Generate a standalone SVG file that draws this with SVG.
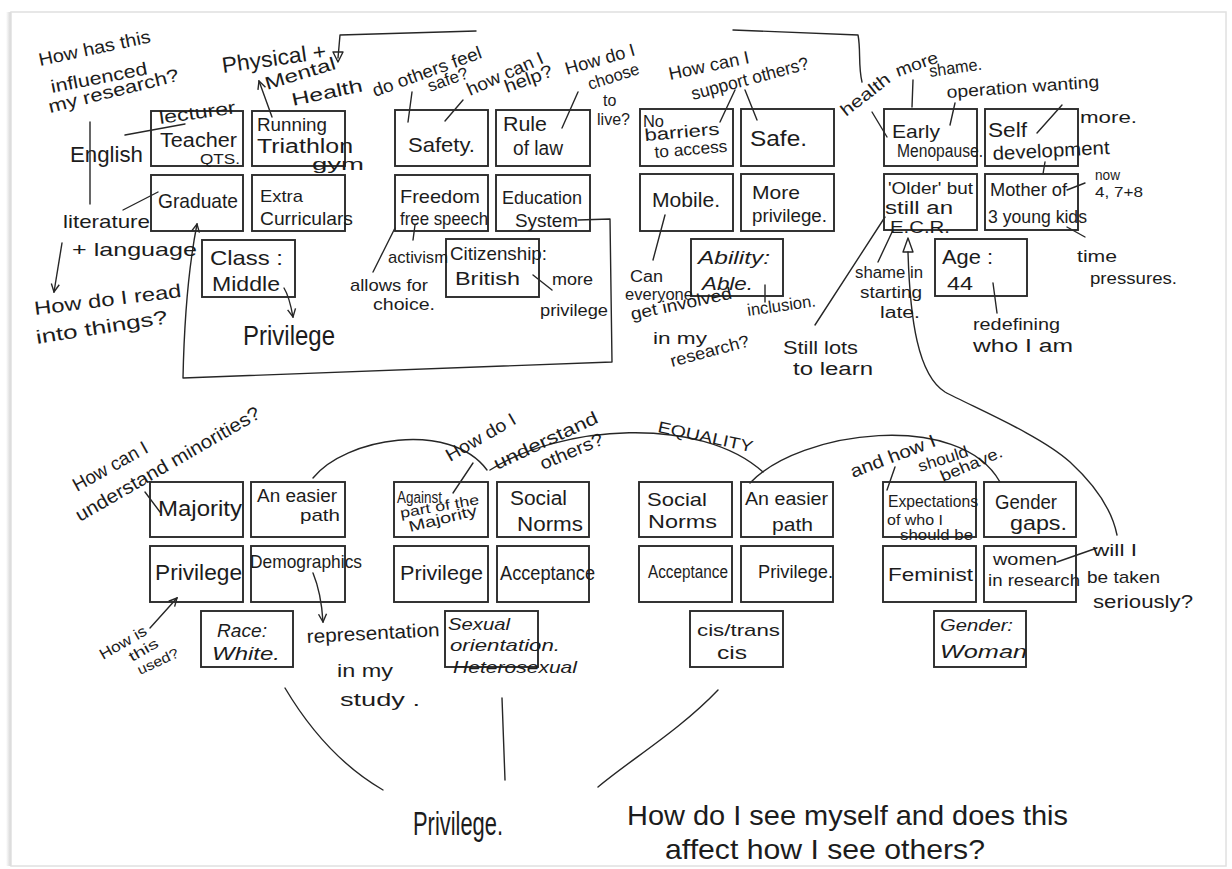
<svg xmlns="http://www.w3.org/2000/svg" width="1232" height="869" viewBox="0 0 1232 869">
<defs>
<style>
.bx{fill:none;stroke:#2b2b2b;stroke-width:1.9}
.t{font-family:"Liberation Sans",Arial,sans-serif;fill:#1c1c1c}
.i{font-style:italic}
.ln{fill:none;stroke:#262626;stroke-width:1.4;stroke-linecap:round;stroke-linejoin:round}
.ar{marker-end:url(#ah)}
</style>
<marker id="ah" viewBox="0 0 10 10" refX="9" refY="5" markerWidth="10" markerHeight="10" markerUnits="userSpaceOnUse" orient="auto"><path d="M1,1 L9,5 L1,9" fill="none" stroke="#262626" stroke-width="1.4"/></marker>
<linearGradient id="edge" x1="0" y1="0" x2="1" y2="0"><stop offset="0" stop-color="#ffffff"/><stop offset="1" stop-color="#c9c9c9"/></linearGradient>
</defs>

<!-- sheet of paper -->
<rect width="1232" height="869" fill="#ffffff"/>
<rect x="6" y="12" width="6" height="854" fill="url(#edge)"/>
<rect x="11" y="12" width="1215" height="854" fill="#ffffff" stroke="#e0e0e0" stroke-width="1.5"/>

<!-- connectors -->
<g id="connectors">
  <path class="ln ar" d="M272,117 L259,81"/>
  <path class="ln" d="M476,31 L340,35 L338,58"/>
  <path class="ln" d="M333,52 L343,52 L338,62 Z"/>
  <path class="ln" d="M733,30 L858,35 C861,50 858,66 862,82"/>
  <path class="ln" d="M872,112 L887,137"/>
  <path class="ln" d="M90,122 L90,204"/>
  <path class="ln" d="M125,135 L185,124"/>
  <path class="ln" d="M123,210 L158,192"/>
  <path class="ln ar" d="M62,243 L54,292"/>
  <path class="ln ar" d="M284,288 C289,296 291,306 293,317"/>
  <path class="ln ar" d="M578,220 L610,219 L612,362 L183,378 C184,330 188,270 197,224"/>
  <path class="ln" d="M412,92 L408,122"/>
  <path class="ln" d="M463,100 L445,121"/>
  <path class="ln" d="M578,92 L562,128"/>
  <path class="ln" d="M373,272 L395,228"/>
  <path class="ln" d="M415,225 L413,240"/>
  <path class="ln" d="M533,275 L552,290"/>
  <path class="ln" d="M735,90 L720,122"/>
  <path class="ln" d="M745,90 L757,120"/>
  <path class="ln" d="M665,215 L653,260"/>
  <path class="ln" d="M765,285 L765,302"/>
  <path class="ln" d="M815,325 L885,217"/>
  <path class="ln" d="M913,80 L912,107"/>
  <path class="ln" d="M955,103 L950,125"/>
  <path class="ln" d="M1062,105 L1037,133"/>
  <path class="ln" d="M1045,162 L1043,174"/>
  <path class="ln" d="M1067,190 L1085,183"/>
  <path class="ln" d="M1067,227 L1085,237"/>
  <path class="ln" d="M993,283 L997,313"/>
  <path class="ln" d="M893,230 L878,262"/>
  <path class="ln" d="M908,238 L903,252 L913,252 Z"/>
  <path class="ln" d="M908,252 C910,320 918,375 945,392 C975,408 1040,435 1070,462 C1095,485 1112,510 1117,535"/>
  <path class="ln" d="M145,492 L160,512"/>
  <path class="ln ar" d="M150,628 L177,598"/>
  <path class="ln ar" d="M313,573 C320,590 322,605 323,622"/>
  <path class="ln" d="M313,478 C345,438 450,420 487,470"/>
  <path class="ln" d="M490,470 C560,425 700,415 763,472"/>
  <path class="ln" d="M750,483 C800,430 960,410 1000,482"/>
  <path class="ln" d="M473,463 L453,493"/>
  <path class="ln" d="M895,467 L887,490"/>
  <path class="ln" d="M1057,562 L1097,548"/>
  <path class="ln" d="M285,688 C310,730 340,765 383,790"/>
  <path class="ln" d="M502,698 L505,780"/>
  <path class="ln" d="M718,690 C680,730 630,760 598,787"/>
</g>

<!-- identity: teaching -->
<g id="n-teacher"><rect class="bx" x="151" y="111" width="92" height="55"/>
  <text class="t" x="160" y="147" font-size="20" textLength="77" lengthAdjust="spacingAndGlyphs">Teacher</text>
  <text class="t" x="200" y="164" font-size="14" textLength="40" lengthAdjust="spacingAndGlyphs">QTS.</text></g>
<g id="n-running"><rect class="bx" x="252" y="111" width="93" height="55"/>
  <text class="t" x="257" y="131" font-size="18" textLength="70" lengthAdjust="spacingAndGlyphs">Running</text>
  <text class="t" x="257" y="153" font-size="20" textLength="96" lengthAdjust="spacingAndGlyphs">Triathlon</text>
  <text class="t" x="312" y="170" font-size="17" textLength="52" lengthAdjust="spacingAndGlyphs">gym</text></g>
<g id="n-graduate"><rect class="bx" x="151" y="175" width="92" height="56"/>
  <text class="t" x="158" y="208" font-size="21" textLength="80" lengthAdjust="spacingAndGlyphs">Graduate</text></g>
<g id="n-extra"><rect class="bx" x="252" y="175" width="93" height="56"/>
  <text class="t" x="260" y="202" font-size="17" textLength="43" lengthAdjust="spacingAndGlyphs">Extra</text>
  <text class="t" x="260" y="225" font-size="19" textLength="93" lengthAdjust="spacingAndGlyphs">Curriculars</text></g>
<g id="n-class"><rect class="bx" x="202" y="240" width="93" height="57"/>
  <text class="t" x="210" y="265" font-size="21" textLength="73" lengthAdjust="spacingAndGlyphs">Class :</text>
  <text class="t" x="212" y="291" font-size="20" textLength="68" lengthAdjust="spacingAndGlyphs">Middle</text></g>

<!-- identity: citizenship -->
<g id="n-safety"><rect class="bx" x="395" y="110" width="93" height="56"/>
  <text class="t" x="408" y="152" font-size="21" textLength="67" lengthAdjust="spacingAndGlyphs">Safety.</text></g>
<g id="n-rule"><rect class="bx" x="496" y="110" width="94" height="56"/>
  <text class="t" x="503" y="131" font-size="20" textLength="44" lengthAdjust="spacingAndGlyphs">Rule</text>
  <text class="t" x="513" y="155" font-size="20" textLength="50" lengthAdjust="spacingAndGlyphs">of law</text></g>
<g id="n-freedom"><rect class="bx" x="395" y="175" width="93" height="56"/>
  <text class="t" x="400" y="203" font-size="19" textLength="80" lengthAdjust="spacingAndGlyphs">Freedom</text>
  <text class="t" x="400" y="225" font-size="19" textLength="88" lengthAdjust="spacingAndGlyphs">free speech</text></g>
<g id="n-education"><rect class="bx" x="496" y="175" width="94" height="56"/>
  <text class="t" x="502" y="204" font-size="18" textLength="80" lengthAdjust="spacingAndGlyphs">Education</text>
  <text class="t" x="515" y="227" font-size="19" textLength="63" lengthAdjust="spacingAndGlyphs">System</text></g>
<g id="n-citizenship"><rect class="bx" x="446" y="239" width="93" height="58"/>
  <text class="t" x="450" y="260" font-size="19" textLength="97" lengthAdjust="spacingAndGlyphs">Citizenship:</text>
  <text class="t" x="455" y="285" font-size="19" textLength="65" lengthAdjust="spacingAndGlyphs">British</text></g>

<!-- identity: ability -->
<g id="n-barriers"><rect class="bx" x="640" y="109" width="93" height="57"/>
  <text class="t" x="643" y="127" font-size="16" textLength="21" lengthAdjust="spacingAndGlyphs">No</text>
  <text class="t" x="645" y="141" font-size="17" textLength="75" lengthAdjust="spacingAndGlyphs" transform="rotate(-5 645 141)">barriers</text>
  <text class="t" x="655" y="158" font-size="17" textLength="73" lengthAdjust="spacingAndGlyphs" transform="rotate(-5 655 158)">to access</text></g>
<g id="n-safe"><rect class="bx" x="741" y="109" width="93" height="57"/>
  <text class="t" x="750" y="146" font-size="22" textLength="57" lengthAdjust="spacingAndGlyphs">Safe.</text></g>
<g id="n-mobile"><rect class="bx" x="640" y="174" width="93" height="57"/>
  <text class="t" x="652" y="207" font-size="21" textLength="68" lengthAdjust="spacingAndGlyphs">Mobile.</text></g>
<g id="n-moreprivilege"><rect class="bx" x="741" y="174" width="93" height="57"/>
  <text class="t" x="752" y="199" font-size="19" textLength="48" lengthAdjust="spacingAndGlyphs">More</text>
  <text class="t" x="752" y="222" font-size="18" textLength="75" lengthAdjust="spacingAndGlyphs">privilege.</text></g>
<g id="n-ability"><rect class="bx" x="691" y="239" width="92" height="57"/>
  <text class="t i" x="698" y="264" font-size="19" textLength="72" lengthAdjust="spacingAndGlyphs">Ability:</text>
  <text class="t i" x="702" y="290" font-size="19" textLength="51" lengthAdjust="spacingAndGlyphs">Able.</text></g>

<!-- identity: age -->
<g id="n-menopause"><rect class="bx" x="884" y="109" width="93" height="57"/>
  <text class="t" x="892" y="138" font-size="19" textLength="48" lengthAdjust="spacingAndGlyphs">Early</text>
  <text class="t" x="897" y="157" font-size="18" textLength="86" lengthAdjust="spacingAndGlyphs">Menopause.</text></g>
<g id="n-self"><rect class="bx" x="985" y="109" width="93" height="57"/>
  <text class="t" x="988" y="137" font-size="20" textLength="39" lengthAdjust="spacingAndGlyphs">Self</text>
  <text class="t" x="993" y="160" font-size="19" textLength="117" lengthAdjust="spacingAndGlyphs" transform="rotate(-3 993 160)">development</text></g>
<g id="n-ecr"><rect class="bx" x="884" y="174" width="93" height="56"/>
  <text class="t" x="888" y="194" font-size="17" textLength="85" lengthAdjust="spacingAndGlyphs">'Older' but</text>
  <text class="t" x="885" y="214" font-size="18" textLength="68" lengthAdjust="spacingAndGlyphs">still an</text>
  <text class="t" x="890" y="233" font-size="17" textLength="60" lengthAdjust="spacingAndGlyphs">E.C.R.</text></g>
<g id="n-mother"><rect class="bx" x="985" y="174" width="93" height="56"/>
  <text class="t" x="990" y="196" font-size="18" textLength="77" lengthAdjust="spacingAndGlyphs">Mother of</text>
  <text class="t" x="988" y="223" font-size="18" textLength="99" lengthAdjust="spacingAndGlyphs">3 young kids</text></g>
<g id="n-age"><rect class="bx" x="935" y="239" width="92" height="57"/>
  <text class="t" x="942" y="264" font-size="21" textLength="51" lengthAdjust="spacingAndGlyphs">Age :</text>
  <text class="t" x="947" y="290" font-size="18" textLength="26" lengthAdjust="spacingAndGlyphs">44</text></g>

<!-- identity: race -->
<g id="n-majority"><rect class="bx" x="150" y="482" width="93" height="55"/>
  <text class="t" x="158" y="516" font-size="22" textLength="84" lengthAdjust="spacingAndGlyphs">Majority</text></g>
<g id="n-path1"><rect class="bx" x="251" y="482" width="94" height="55"/>
  <text class="t" x="257" y="502" font-size="18" textLength="80" lengthAdjust="spacingAndGlyphs">An easier</text>
  <text class="t" x="300" y="521" font-size="17" textLength="40" lengthAdjust="spacingAndGlyphs">path</text></g>
<g id="n-privilege1"><rect class="bx" x="150" y="546" width="93" height="56"/>
  <text class="t" x="155" y="580" font-size="22" textLength="87" lengthAdjust="spacingAndGlyphs">Privilege</text></g>
<g id="n-demographics"><rect class="bx" x="251" y="546" width="94" height="56"/>
  <text class="t" x="250" y="568" font-size="19" textLength="112" lengthAdjust="spacingAndGlyphs">Demographics</text></g>
<g id="n-race"><rect class="bx" x="201" y="611" width="92" height="56"/>
  <text class="t i" x="217" y="637" font-size="19" textLength="50" lengthAdjust="spacingAndGlyphs">Race:</text>
  <text class="t i" x="212" y="660" font-size="19" textLength="68" lengthAdjust="spacingAndGlyphs">White.</text></g>

<!-- identity: sexual orientation -->
<g id="n-against"><rect class="bx" x="394" y="482" width="94" height="55"/>
  <text class="t" x="397" y="503" font-size="16" textLength="45" lengthAdjust="spacingAndGlyphs">Against</text>
  <text class="t" x="401" y="518" font-size="14" textLength="80" lengthAdjust="spacingAndGlyphs" transform="rotate(-10 401 518)">part of the</text>
  <text class="t" x="410" y="532" font-size="15" textLength="70" lengthAdjust="spacingAndGlyphs" transform="rotate(-14 410 532)">Majority</text></g>
<g id="n-norms1"><rect class="bx" x="497" y="482" width="92" height="55"/>
  <text class="t" x="510" y="505" font-size="20" textLength="57" lengthAdjust="spacingAndGlyphs">Social</text>
  <text class="t" x="517" y="531" font-size="20" textLength="66" lengthAdjust="spacingAndGlyphs">Norms</text></g>
<g id="n-privilege2"><rect class="bx" x="394" y="546" width="94" height="56"/>
  <text class="t" x="400" y="580" font-size="20" textLength="83" lengthAdjust="spacingAndGlyphs">Privilege</text></g>
<g id="n-acceptance1"><rect class="bx" x="497" y="546" width="92" height="56"/>
  <text class="t" x="500" y="580" font-size="20" textLength="95" lengthAdjust="spacingAndGlyphs">Acceptance</text></g>
<g id="n-orientation"><rect class="bx" x="445" y="611" width="93" height="56"/>
  <text class="t i" x="448" y="630" font-size="17" textLength="62" lengthAdjust="spacingAndGlyphs">Sexual</text>
  <text class="t i" x="450" y="651" font-size="17" textLength="110" lengthAdjust="spacingAndGlyphs">orientation.</text>
  <text class="t i" x="453" y="673" font-size="17" textLength="124" lengthAdjust="spacingAndGlyphs">Heterosexual</text></g>

<!-- identity: gender identity -->
<g id="n-norms2"><rect class="bx" x="639" y="482" width="93" height="55"/>
  <text class="t" x="647" y="506" font-size="19" textLength="60" lengthAdjust="spacingAndGlyphs">Social</text>
  <text class="t" x="648" y="528" font-size="19" textLength="69" lengthAdjust="spacingAndGlyphs">Norms</text></g>
<g id="n-path2"><rect class="bx" x="741" y="482" width="92" height="55"/>
  <text class="t" x="745" y="505" font-size="18" textLength="83" lengthAdjust="spacingAndGlyphs">An easier</text>
  <text class="t" x="772" y="531" font-size="18" textLength="41" lengthAdjust="spacingAndGlyphs">path</text></g>
<g id="n-acceptance2"><rect class="bx" x="639" y="546" width="93" height="56"/>
  <text class="t" x="648" y="578" font-size="18" textLength="80" lengthAdjust="spacingAndGlyphs">Acceptance</text></g>
<g id="n-privilege3"><rect class="bx" x="741" y="546" width="92" height="56"/>
  <text class="t" x="758" y="578" font-size="19" textLength="75" lengthAdjust="spacingAndGlyphs">Privilege.</text></g>
<g id="n-cis"><rect class="bx" x="690" y="611" width="93" height="56"/>
  <text class="t" x="697" y="636" font-size="17" textLength="83" lengthAdjust="spacingAndGlyphs">cis/trans</text>
  <text class="t" x="717" y="659" font-size="18" textLength="30" lengthAdjust="spacingAndGlyphs">cis</text></g>

<!-- identity: gender -->
<g id="n-expectations"><rect class="bx" x="883" y="482" width="93" height="55"/>
  <text class="t" x="888" y="507" font-size="17" textLength="90" lengthAdjust="spacingAndGlyphs">Expectations</text>
  <text class="t" x="887" y="525" font-size="15" textLength="56" lengthAdjust="spacingAndGlyphs">of who I</text>
  <text class="t" x="900" y="540" font-size="14" textLength="73" lengthAdjust="spacingAndGlyphs">should be</text></g>
<g id="n-gaps"><rect class="bx" x="984" y="482" width="92" height="55"/>
  <text class="t" x="995" y="509" font-size="20" textLength="62" lengthAdjust="spacingAndGlyphs">Gender</text>
  <text class="t" x="1010" y="530" font-size="20" textLength="57" lengthAdjust="spacingAndGlyphs">gaps.</text></g>
<g id="n-feminist"><rect class="bx" x="883" y="546" width="93" height="56"/>
  <text class="t" x="888" y="581" font-size="19" textLength="85" lengthAdjust="spacingAndGlyphs">Feminist</text></g>
<g id="n-women"><rect class="bx" x="984" y="546" width="92" height="56"/>
  <text class="t" x="993" y="565" font-size="16" textLength="64" lengthAdjust="spacingAndGlyphs">women</text>
  <text class="t" x="988" y="586" font-size="16" textLength="92" lengthAdjust="spacingAndGlyphs">in research</text></g>
<g id="n-woman"><rect class="bx" x="934" y="611" width="92" height="56"/>
  <text class="t i" x="940" y="631" font-size="17" textLength="73" lengthAdjust="spacingAndGlyphs">Gender:</text>
  <text class="t i" x="940" y="658" font-size="19" textLength="87" lengthAdjust="spacingAndGlyphs">Woman</text></g>

<!-- handwritten notes -->
<g id="notes">
  <text class="t" x="40" y="66" font-size="18" textLength="114" lengthAdjust="spacingAndGlyphs" transform="rotate(-12 40 66)">How has this</text>
  <text class="t" x="52" y="93" font-size="18" textLength="98" lengthAdjust="spacingAndGlyphs" transform="rotate(-11 52 93)">influenced</text>
  <text class="t" x="50" y="113" font-size="18" textLength="134" lengthAdjust="spacingAndGlyphs" transform="rotate(-14 50 113)">my research?</text>
  <text class="t" x="70" y="162" font-size="22" textLength="73" lengthAdjust="spacingAndGlyphs">English</text>
  <text class="t" x="160" y="124" font-size="18" textLength="77" lengthAdjust="spacingAndGlyphs" transform="rotate(-8 160 124)">lecturer</text>
  <text class="t" x="223" y="73" font-size="22" textLength="105" lengthAdjust="spacingAndGlyphs" transform="rotate(-8 223 73)">Physical +</text>
  <text class="t" x="267" y="90" font-size="18" textLength="73" lengthAdjust="spacingAndGlyphs" transform="rotate(-17 267 90)">Mental</text>
  <text class="t" x="293" y="106" font-size="18" textLength="72" lengthAdjust="spacingAndGlyphs" transform="rotate(-12 293 106)">Health</text>
  <text class="t" x="63" y="228" font-size="19" textLength="87" lengthAdjust="spacingAndGlyphs">literature</text>
  <text class="t" x="72" y="256" font-size="19" textLength="125" lengthAdjust="spacingAndGlyphs">+ language</text>
  <text class="t" x="35" y="315" font-size="19" textLength="148" lengthAdjust="spacingAndGlyphs" transform="rotate(-7 35 315)">How do I read</text>
  <text class="t" x="37" y="344" font-size="19" textLength="133" lengthAdjust="spacingAndGlyphs" transform="rotate(-9 37 344)">into things?</text>
  <text class="t" x="243" y="345" font-size="27" textLength="92" lengthAdjust="spacingAndGlyphs">Privilege</text>

  <text class="t" x="375" y="97" font-size="18" textLength="115" lengthAdjust="spacingAndGlyphs" transform="rotate(-20 375 97)">do others feel</text>
  <text class="t" x="430" y="92" font-size="17" textLength="42" lengthAdjust="spacingAndGlyphs" transform="rotate(-20 430 92)">safe?</text>
  <text class="t" x="470" y="96" font-size="18" textLength="82" lengthAdjust="spacingAndGlyphs" transform="rotate(-24 470 96)">how can I</text>
  <text class="t" x="507" y="93" font-size="18" textLength="50" lengthAdjust="spacingAndGlyphs" transform="rotate(-20 507 93)">help?</text>
  <text class="t" x="567" y="75" font-size="18" textLength="72" lengthAdjust="spacingAndGlyphs" transform="rotate(-16 567 75)">How do I</text>
  <text class="t" x="590" y="90" font-size="17" textLength="53" lengthAdjust="spacingAndGlyphs" transform="rotate(-18 590 90)">choose</text>
  <text class="t" x="603" y="106" font-size="16">to</text>
  <text class="t" x="597" y="125" font-size="16" textLength="33" lengthAdjust="spacingAndGlyphs">live?</text>
  <text class="t" x="388" y="263" font-size="17" textLength="60" lengthAdjust="spacingAndGlyphs">activism</text>
  <text class="t" x="350" y="291" font-size="17" textLength="78" lengthAdjust="spacingAndGlyphs">allows for</text>
  <text class="t" x="373" y="310" font-size="17" textLength="62" lengthAdjust="spacingAndGlyphs">choice.</text>
  <text class="t" x="552" y="285" font-size="17" textLength="41" lengthAdjust="spacingAndGlyphs">more</text>
  <text class="t" x="540" y="316" font-size="17" textLength="68" lengthAdjust="spacingAndGlyphs">privilege</text>

  <text class="t" x="670" y="80" font-size="18" textLength="82" lengthAdjust="spacingAndGlyphs" transform="rotate(-12 670 80)">How can I</text>
  <text class="t" x="693" y="100" font-size="18" textLength="121" lengthAdjust="spacingAndGlyphs" transform="rotate(-15 693 100)">support others?</text>
  <text class="t" x="630" y="282" font-size="16" textLength="33" lengthAdjust="spacingAndGlyphs">Can</text>
  <text class="t" x="625" y="300" font-size="16" textLength="68" lengthAdjust="spacingAndGlyphs">everyone</text>
  <text class="t" x="632" y="320" font-size="17" textLength="103" lengthAdjust="spacingAndGlyphs" transform="rotate(-12 632 320)">get involved</text>
  <text class="t" x="653" y="344" font-size="17" textLength="54" lengthAdjust="spacingAndGlyphs">in my</text>
  <text class="t" x="672" y="367" font-size="17" textLength="81" lengthAdjust="spacingAndGlyphs" transform="rotate(-15 672 367)">research?</text>
  <text class="t" x="748" y="316" font-size="17" textLength="69" lengthAdjust="spacingAndGlyphs" transform="rotate(-8 748 316)">inclusion.</text>
  <text class="t" x="783" y="354" font-size="18" textLength="75" lengthAdjust="spacingAndGlyphs">Still lots</text>
  <text class="t" x="793" y="375" font-size="18" textLength="80" lengthAdjust="spacingAndGlyphs">to learn</text>

  <text class="t" x="846" y="117" font-size="17" textLength="58" lengthAdjust="spacingAndGlyphs" transform="rotate(-38 846 117)">health</text>
  <text class="t" x="898" y="77" font-size="17" textLength="44" lengthAdjust="spacingAndGlyphs" transform="rotate(-20 898 77)">more</text>
  <text class="t" x="930" y="77" font-size="17" textLength="53" lengthAdjust="spacingAndGlyphs" transform="rotate(-8 930 77)">shame.</text>
  <text class="t" x="947" y="98" font-size="17" textLength="153" lengthAdjust="spacingAndGlyphs" transform="rotate(-4 947 98)">operation wanting</text>
  <text class="t" x="1080" y="123" font-size="17" textLength="57" lengthAdjust="spacingAndGlyphs">more.</text>
  <text class="t" x="1095" y="180" font-size="14" textLength="25" lengthAdjust="spacingAndGlyphs">now</text>
  <text class="t" x="1095" y="197" font-size="15" textLength="48" lengthAdjust="spacingAndGlyphs">4, 7+8</text>
  <text class="t" x="1077" y="262" font-size="16" textLength="40" lengthAdjust="spacingAndGlyphs">time</text>
  <text class="t" x="1090" y="284" font-size="17" textLength="87" lengthAdjust="spacingAndGlyphs">pressures.</text>
  <text class="t" x="855" y="278" font-size="16" textLength="68" lengthAdjust="spacingAndGlyphs">shame in</text>
  <text class="t" x="860" y="298" font-size="16" textLength="62" lengthAdjust="spacingAndGlyphs">starting</text>
  <text class="t" x="880" y="318" font-size="16" textLength="40" lengthAdjust="spacingAndGlyphs">late.</text>
  <text class="t" x="973" y="330" font-size="17" textLength="87" lengthAdjust="spacingAndGlyphs">redefining</text>
  <text class="t" x="973" y="352" font-size="18" textLength="100" lengthAdjust="spacingAndGlyphs">who I am</text>

  <text class="t" x="77" y="492" font-size="19" textLength="83" lengthAdjust="spacingAndGlyphs" transform="rotate(-29 77 492)">How can I</text>
  <text class="t" x="80" y="522" font-size="19" textLength="210" lengthAdjust="spacingAndGlyphs" transform="rotate(-30 80 522)">understand minorities?</text>
  <text class="t" x="103" y="660" font-size="15" textLength="52" lengthAdjust="spacingAndGlyphs" transform="rotate(-30 103 660)">How is</text>
  <text class="t" x="132" y="662" font-size="14" textLength="32" lengthAdjust="spacingAndGlyphs" transform="rotate(-30 132 662)">this</text>
  <text class="t" x="140" y="675" font-size="14" textLength="44" lengthAdjust="spacingAndGlyphs" transform="rotate(-25 140 675)">used?</text>
  <text class="t" x="307" y="643" font-size="19" textLength="133" lengthAdjust="spacingAndGlyphs" transform="rotate(-3 307 643)">representation</text>
  <text class="t" x="337" y="677" font-size="18" textLength="56" lengthAdjust="spacingAndGlyphs">in my</text>
  <text class="t" x="340" y="706" font-size="18" textLength="80" lengthAdjust="spacingAndGlyphs">study .</text>

  <text class="t" x="450" y="462" font-size="18" textLength="78" lengthAdjust="spacingAndGlyphs" transform="rotate(-30 450 462)">How do I</text>
  <text class="t" x="497" y="470" font-size="18" textLength="113" lengthAdjust="spacingAndGlyphs" transform="rotate(-25 497 470)">understand</text>
  <text class="t" x="543" y="470" font-size="18" textLength="67" lengthAdjust="spacingAndGlyphs" transform="rotate(-23 543 470)">others?</text>
  <text class="t" x="657" y="432" font-size="16" textLength="97" lengthAdjust="spacingAndGlyphs" transform="rotate(12 657 432)">EQUALITY</text>

  <text class="t" x="853" y="478" font-size="18" textLength="90" lengthAdjust="spacingAndGlyphs" transform="rotate(-21 853 478)">and how I</text>
  <text class="t" x="920" y="472" font-size="16" textLength="52" lengthAdjust="spacingAndGlyphs" transform="rotate(-18 920 472)">should</text>
  <text class="t" x="943" y="482" font-size="16" textLength="66" lengthAdjust="spacingAndGlyphs" transform="rotate(-23 943 482)">behave.</text>
  <text class="t" x="1093" y="556" font-size="17" textLength="44" lengthAdjust="spacingAndGlyphs">will I</text>
  <text class="t" x="1087" y="583" font-size="17" textLength="73" lengthAdjust="spacingAndGlyphs">be taken</text>
  <text class="t" x="1093" y="608" font-size="18" textLength="100" lengthAdjust="spacingAndGlyphs">seriously?</text>

  <text class="t" x="413" y="835" font-size="34" textLength="90" lengthAdjust="spacingAndGlyphs">Privilege.</text>
  <text class="t" x="627" y="825" font-size="28" textLength="441" lengthAdjust="spacingAndGlyphs">How do I see myself and does this</text>
  <text class="t" x="665" y="859" font-size="28" textLength="320" lengthAdjust="spacingAndGlyphs">affect how I see others?</text>
</g>
</svg>
